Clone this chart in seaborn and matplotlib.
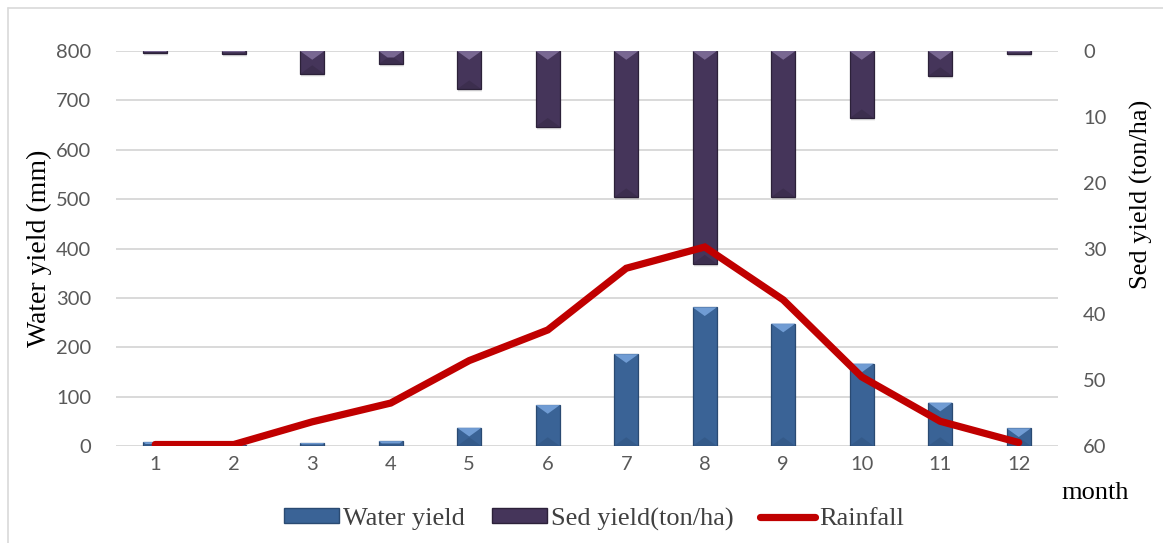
import numpy as np
import pandas as pd
import matplotlib
matplotlib.use("Agg")
import matplotlib.pyplot as plt
from matplotlib.patches import Polygon, Patch
from matplotlib.lines import Line2D
import seaborn as sns

# Monthly values
months = ["1", "2", "3", "4", "5", "6", "7", "8", "9", "10", "11", "12"]
water_yield = [8, 3, 6, 10, 37, 83, 186, 281, 248, 167, 88, 36]          # mm
sed_yield = [0.3, 0.4, 3.5, 2.0, 5.8, 11.5, 22.2, 32.3, 22.2, 10.2, 3.8, 0.4]  # ton/ha
rainfall = [3, 3, 49, 87, 173, 235, 360, 403, 296, 140, 50, 7]           # mm

water_ticks = [0, 100, 200, 300, 400, 500, 600, 700, 800]
sed_ticks = [0, 10, 20, 30, 40, 50, 60]

WATER_C = "#3A6396"
WATER_LIGHT = "#77A3DB"
WATER_DARK = "#2A4A72"
SED_C = "#45355A"
SED_LIGHT = "#7F6E99"
SED_DARK = "#2C2139"
RAIN_C = "#C00000"
GRID_C = "#D9D9D9"
TICK_C = "#595959"

sns.set_theme(style="white")
plt.rcParams["font.family"] = ["Lato", "DejaVu Sans"]

W, H = 1163, 543
fig = plt.figure(figsize=(W / 100, H / 100), dpi=100)
ax = fig.add_axes([116 / W, 1 - 446 / H, (1058 - 116) / W, (446 - 51) / H])
ax2 = ax.twinx()

df = pd.DataFrame({"month": months, "water": water_yield, "sed": sed_yield,
                   "rain": rainfall, "pos": np.arange(len(months))})

sns.barplot(data=df, x="month", y="water", color=WATER_C, saturation=1,
            width=0.31, ax=ax, edgecolor=WATER_DARK, linewidth=0.9, zorder=2)
sns.barplot(data=df, x="month", y="sed", color=SED_C, saturation=1,
            width=0.31, ax=ax2, edgecolor=SED_DARK, linewidth=0.9, zorder=2)

ax.set_xlim(-0.5, len(months) - 0.5)
ax.set_ylim(0, 800)
ax2.set_ylim(60, 0)

# rainfall line, drawn on the upper axes but in water-yield units
sns.lineplot(data=df, x="pos", y="rain", ax=ax2, color=RAIN_C, linewidth=5.2,
             solid_capstyle="round", solid_joinstyle="miter", errorbar=None,
             transform=ax.transData, zorder=4, label="_nolegend_")
ax2.set_ylim(60, 0)
ax.set_xlim(-0.5, len(months) - 0.5)


def add_bevel(axis, light, dark):
    """Give each bar a lit top face, a shaded bottom face and a soft drop shadow."""
    to_px = axis.transData
    to_data = axis.transData.inverted()
    for bar in list(axis.patches):
        x0, y0 = bar.get_x(), bar.get_y()
        x1, y1 = x0 + bar.get_width(), y0 + bar.get_height()
        (px0, py0), (px1, py1) = to_px.transform([(x0, y0), (x1, y1)])
        left, right = min(px0, px1), max(px0, px1)
        top, bottom = max(py0, py1), min(py0, py1)
        w, h = right - left, top - bottom
        if h < 0.5:
            continue
        slope = 0.72
        d_full = slope * w / 2
        d = min(d_full, h / 2)
        inset = d / slope
        xc = (left + right) / 2
        if d >= d_full - 0.01:
            top_face = [(left, top), (right, top), (xc, top - d)]
            bot_face = [(left, bottom), (right, bottom), (xc, bottom + d)]
        else:
            top_face = [(left, top), (right, top), (right - inset, top - d), (left + inset, top - d)]
            bot_face = [(left, bottom), (right, bottom), (right - inset, bottom + d), (left + inset, bottom + d)]
        # soft shadow below the bar
        for k, a in ((1, 0.10), (2, 0.07), (3, 0.05)):
            sh = [(left + 1, bottom - k), (right + 1, bottom - k), (right + 1, top - 1), (left + 1, top - 1)]
            axis.add_patch(Polygon(to_data.transform(sh), closed=True, facecolor="black",
                                   edgecolor="none", alpha=a, zorder=1.5,
                                   transform=axis.transData))
        for pts, col, a in ((top_face, light, 0.9), (bot_face, dark, 0.35)):
            axis.add_patch(Polygon(to_data.transform(pts), closed=True, facecolor=col,
                                   edgecolor="none", alpha=a, zorder=2.5,
                                   transform=axis.transData))


add_bevel(ax, WATER_LIGHT, WATER_DARK)
add_bevel(ax2, SED_LIGHT, SED_DARK)

# axes styling
ax.set_yticks(water_ticks)
ax2.set_yticks(sed_ticks)
ax.yaxis.grid(True, color=GRID_C, linewidth=1.4, zorder=0)
ax.xaxis.grid(False)
ax.set_axisbelow(True)
for a in (ax, ax2):
    for s in a.spines.values():
        s.set_visible(False)
    a.tick_params(length=0, colors=TICK_C, labelsize=14.5)
ax.tick_params(axis="y", pad=18)
ax2.tick_params(axis="y", pad=18)
ax.tick_params(axis="x", pad=7)

serif = ["Liberation Serif", "DejaVu Serif"]
ax.set_xlabel("")
ax.set_ylabel("Water yield (mm)", family=serif, fontsize=20, color="black")
ax.yaxis.set_label_coords(-0.068, 0.5)
ax2.set_ylabel("Sed yield (ton/ha)", family=serif, fontsize=19, color="black")
ax2.yaxis.set_label_coords(1.076, 0.638)
fig.text(1061 / W, 1 - 493 / H, "month", family=serif, fontsize=19,
         color="black", ha="left", va="center")

# legend
handles = [
    Patch(facecolor=WATER_C, edgecolor=WATER_DARK, linewidth=1),
    Patch(facecolor=SED_C, edgecolor=SED_DARK, linewidth=1),
    Line2D([], [], color=RAIN_C, linewidth=5.2, solid_capstyle="round"),
]
labels = ["Water yield", "Sed yield(ton/ha)", "Rainfall"]
fig.legend(handles, labels, loc="center", bbox_to_anchor=(594 / W, 1 - 519 / H),
           ncol=3, frameon=False, prop={"family": serif, "size": 19},
           labelcolor="#404040", handlelength=2.1, handleheight=0.5,
           handletextpad=0.15, columnspacing=1.0)

# chart area border (top and left edges)
fig.add_artist(Line2D([8 / W, 1], [1 - 8 / H, 1 - 8 / H], color=GRID_C, linewidth=1.2,
                      transform=fig.transFigure))
fig.add_artist(Line2D([8 / W, 8 / W], [0, 1 - 8 / H], color=GRID_C, linewidth=1.2,
                      transform=fig.transFigure))

fig.savefig("out.png", dpi=100, facecolor="white")
